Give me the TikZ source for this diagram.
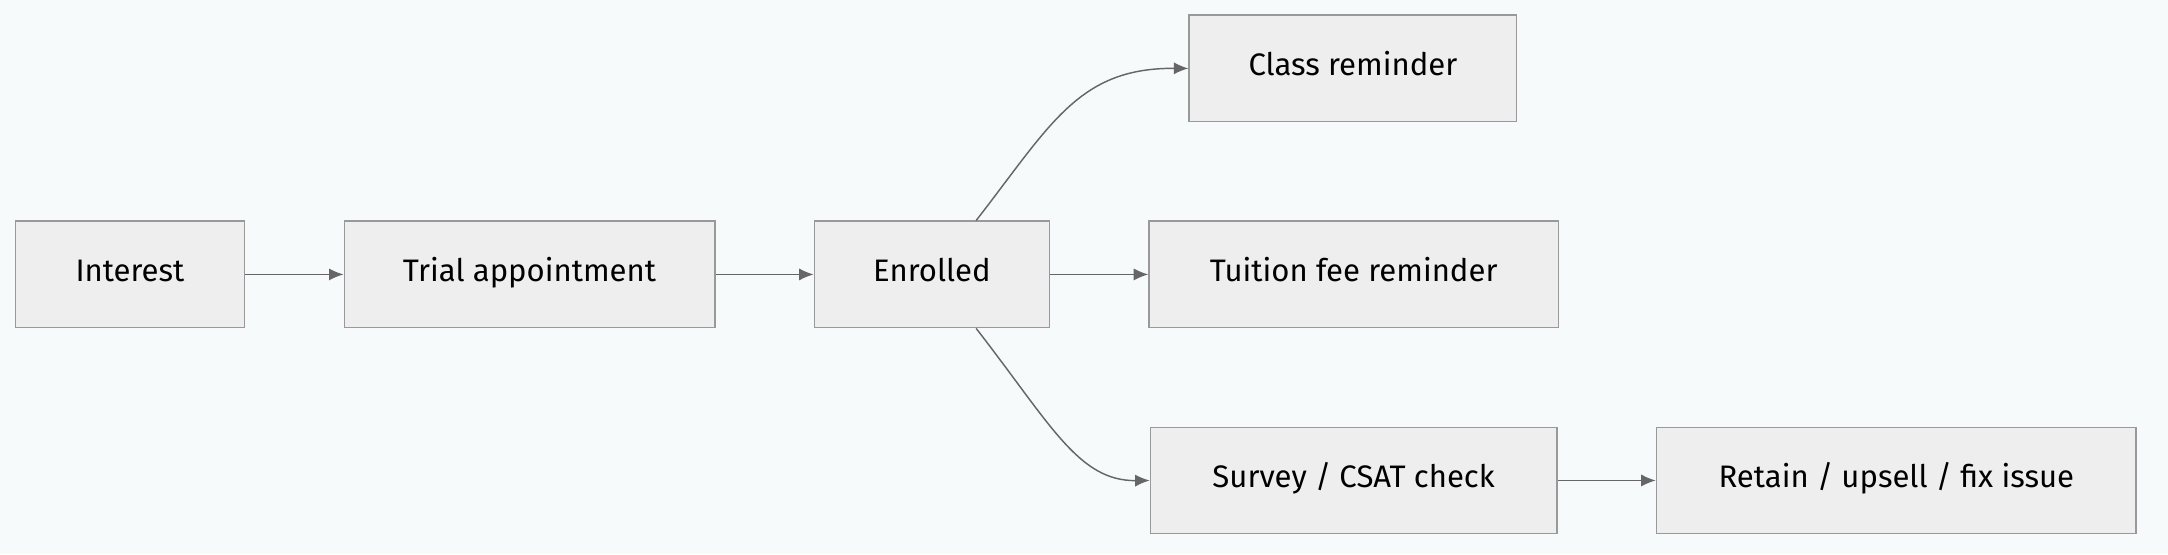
\documentclass[tikz,border=0pt]{standalone}
\usepackage{fontspec}
\setmainfont{Fira Sans}
\usetikzlibrary{arrows.meta}
\definecolor{bgc}{HTML}{F7FAFB}
\definecolor{boxc}{HTML}{EEEEEE}
\definecolor{linec}{HTML}{999999}
\definecolor{arrc}{HTML}{666666}
\tikzset{
  stage/.style={draw=linec, fill=boxc, line width=0.6pt, minimum height=1.54cm,
    inner sep=0pt, text height=1.5ex, text depth=0.4ex,
    font=\fontsize{12.8}{15}\selectfont},
  flow/.style={draw=arrc, line width=0.6pt, -{Latex[length=6pt,width=5pt]}}
}
\begin{document}
\begin{tikzpicture}[x=0.02cm,y=-0.02cm]
  \fill[bgc] (0,0) rectangle (1568,401);
  \useasboundingbox (0,0) rectangle (1568,401);
  % nodes
  \node[stage, minimum width=3.32cm] (interest) at (94,198.5) {Interest};
  \node[stage, minimum width=5.36cm] (trial) at (383,198.5) {Trial appointment};
  \node[stage, minimum width=3.40cm] (enrolled) at (674,198.5) {Enrolled};
  \node[stage, minimum width=4.74cm] (class) at (978.5,49.5) {Class reminder};
  \node[stage, minimum width=5.92cm] (tuition) at (979,198.5) {Tuition fee reminder};
  \node[stage, minimum width=5.88cm] (survey) at (979,347.5) {Survey / CSAT check};
  \node[stage, minimum width=6.94cm] (retain) at (1371.5,347.5) {Retain / upsell / f{}ix issue};
  % connectors
  \draw[flow] (interest) -- (trial);
  \draw[flow] (trial) -- (enrolled);
  \draw[flow] (enrolled) -- (tuition);
  \draw[flow] (survey) -- (retain);
  \draw[flow] (enrolled.north) ++(32,0) .. controls (760,90) and (780,49) .. (class.west);
  \draw[flow] (enrolled.south) ++(32,0) .. controls (760,307) and (780,348) .. (survey.west);
\end{tikzpicture}
\end{document}
